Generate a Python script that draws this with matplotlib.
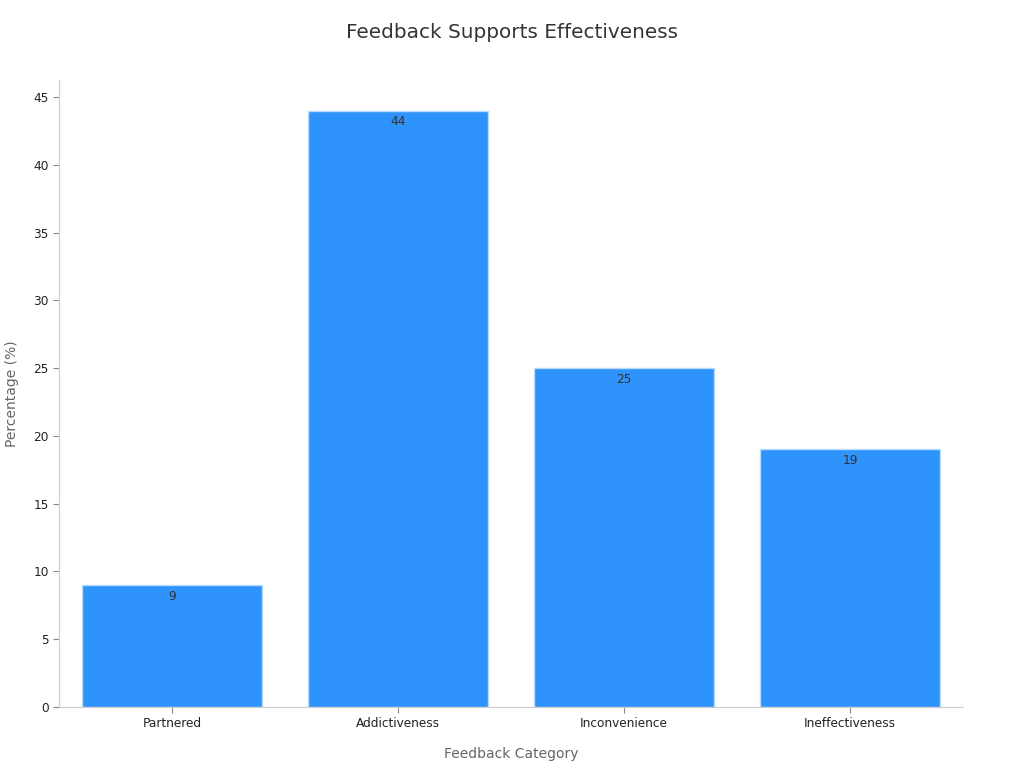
import matplotlib.pyplot as plt

categories = ['Partnered', 'Addictiveness', 'Inconvenience', 'Ineffectiveness']
values = [9, 44, 25, 19]

fig = plt.figure(figsize=(10.24, 7.68), dpi=100)
ax = fig.add_axes([0.0576, 0.0794, 0.8828, 0.8164])

bars = ax.bar(range(len(categories)), values, width=0.8,
              color='#2E93FA', edgecolor='#b8dcff', linewidth=1)

for b, v in zip(bars, values):
    ax.text(b.get_x() + b.get_width() / 2, v - 0.35, str(v),
            ha='center', va='top', fontsize=8.7, color='#333333')

ax.set_xlim(-0.5, 3.5)
ax.set_ylim(0, 46.25)
ax.set_xticks(range(len(categories)))
ax.set_xticklabels(categories)
ax.set_yticks(range(0, 46, 5))

for s in ['top', 'right']:
    ax.spines[s].set_visible(False)
for s in ['left', 'bottom']:
    ax.spines[s].set_color('#cccccc')

ax.tick_params(axis='both', colors='#888888', labelcolor='#222222', labelsize=8.7, length=4)

ax.set_xlabel('Feedback Category', fontsize=10, color='#666666', labelpad=12)
ax.set_ylabel('Percentage (%)', fontsize=10, color='#666666', labelpad=10)
fig.suptitle('Feedback Supports Effectiveness', fontsize=14.4, color='#333333', y=0.97)

fig.savefig('out.png', dpi=100)
